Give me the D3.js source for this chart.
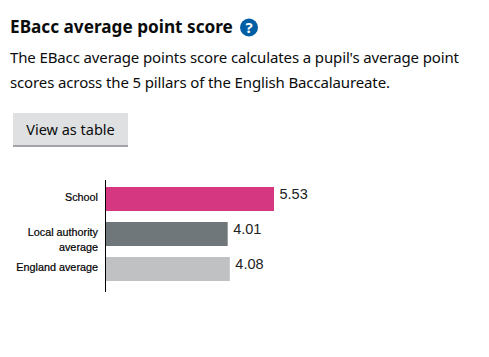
<!DOCTYPE html>
<html>
<head>
<meta charset="utf-8">
<script src="https://cdn.jsdelivr.net/npm/d3@7"></script>
<style>
  html, body { margin: 0; padding: 0; background: #fff; }
  svg { display: block; }
</style>
</head>
<body>
<script>
// 数据
const categories = ["School", "Local authority average", "England average"];
const values = [5.53, 4.01, 4.08];
const barColors = ["#d53880", "#6f777b", "#bfc1c3"];
const titleText = "EBacc average point score";
const bodyLines = [
  "The EBacc average points score calculates a pupil's average point",
  "scores across the 5 pillars of the English Baccalaureate."
];
const bodyWidths = [449, 380];
const buttonText = "View as table";

const width = 489;
const height = 357;
const uiFont = "'Noto Sans', sans-serif";
const chartFont = "'Liberation Sans', Arial, sans-serif";

const svg = d3.select("body").append("svg")
  .attr("width", width)
  .attr("height", height)
  .attr("viewBox", [0, 0, width, height]);

// 标题和说明
svg.append("text")
  .attr("x", 10)
  .attr("y", 33)
  .attr("font-family", uiFont)
  .attr("font-size", 17.2)
  .attr("font-weight", 700)
  .attr("fill", "#0b0c0c")
  .text(titleText);

// 问号图标
const help = svg.append("g").attr("transform", "translate(249,27.5)");
help.append("circle").attr("r", 9).attr("fill", "#005ea5");
help.append("text")
  .attr("y", 5.5)
  .attr("text-anchor", "middle")
  .attr("font-family", uiFont)
  .attr("font-size", 15)
  .attr("font-weight", 700)
  .attr("fill", "#fff")
  .text("?");

svg.append("g")
  .selectAll("text")
  .data(bodyLines)
  .join("text")
  .attr("x", 10)
  .attr("y", (d, i) => 63 + i * 24.5)
  .attr("font-family", uiFont)
  .attr("font-size", 15)
  .attr("textLength", (d, i) => bodyWidths[i])
  .attr("lengthAdjust", "spacing")
  .attr("fill", "#0b0c0c")
  .text(d => d);

// 按钮
svg.append("rect")
  .attr("x", 13).attr("y", 113).attr("width", 115).attr("height", 34)
  .attr("fill", "#dee0e2");
svg.append("rect")
  .attr("x", 13).attr("y", 145).attr("width", 115).attr("height", 2)
  .attr("fill", "#a1a3a8");
svg.append("text")
  .attr("x", 70.5)
  .attr("y", 135)
  .attr("text-anchor", "middle")
  .attr("font-family", uiFont)
  .attr("font-size", 14.5)
  .attr("fill", "#0b0c0c")
  .text(buttonText);

// 比例尺
const x = d3.scaleLinear().domain([0, 5.53]).range([105.5, 274]);
const y = d3.scaleBand()
  .domain(categories)
  .range([181.5, 286.5])
  .paddingInner(0.314)
  .paddingOuter(0.157);

// 条形
svg.append("g")
  .selectAll("rect")
  .data(categories)
  .join("rect")
  .attr("x", x(0))
  .attr("y", d => y(d))
  .attr("width", (d, i) => x(values[i]) - x(0))
  .attr("height", y.bandwidth())
  .attr("fill", (d, i) => barColors[i]);

// 数值标签
svg.append("g")
  .selectAll("text")
  .data(categories)
  .join("text")
  .attr("x", (d, i) => x(values[i]) + 5.5)
  .attr("y", d => y(d) + 12)
  .attr("font-family", chartFont)
  .attr("font-size", 14.5)
  .attr("fill", "#222")
  .text((d, i) => values[i].toFixed(2));

// 纵轴，只保留轴线
const yAxis = d3.axisLeft(y).tickSize(0).tickFormat("");
const axisG = svg.append("g")
  .attr("transform", "translate(105.5,0)")
  .call(yAxis);
axisG.select(".domain")
  .attr("d", "M0,180V292")
  .attr("stroke", "#000");

// 分类标签，长的折成两行
const wrapped = { "Local authority average": ["Local authority", "average"] };
svg.append("g")
  .selectAll("text")
  .data(categories)
  .join("text")
  .attr("text-anchor", "end")
  .attr("font-family", chartFont)
  .attr("font-size", 10.8)
  .attr("stroke", "#000")
  .attr("stroke-width", 0.2)
  .attr("fill", "#000")
  .each(function (d) {
    const lines = wrapped[d] || [d];
    const first = y(d) + y.bandwidth() / 2 + 2;
    d3.select(this).selectAll("tspan")
      .data(lines)
      .join("tspan")
      .attr("x", 98)
      .attr("y", (l, i) => first + i * 14.5)
      .text(l => l);
  });
</script>
</body>
</html>
